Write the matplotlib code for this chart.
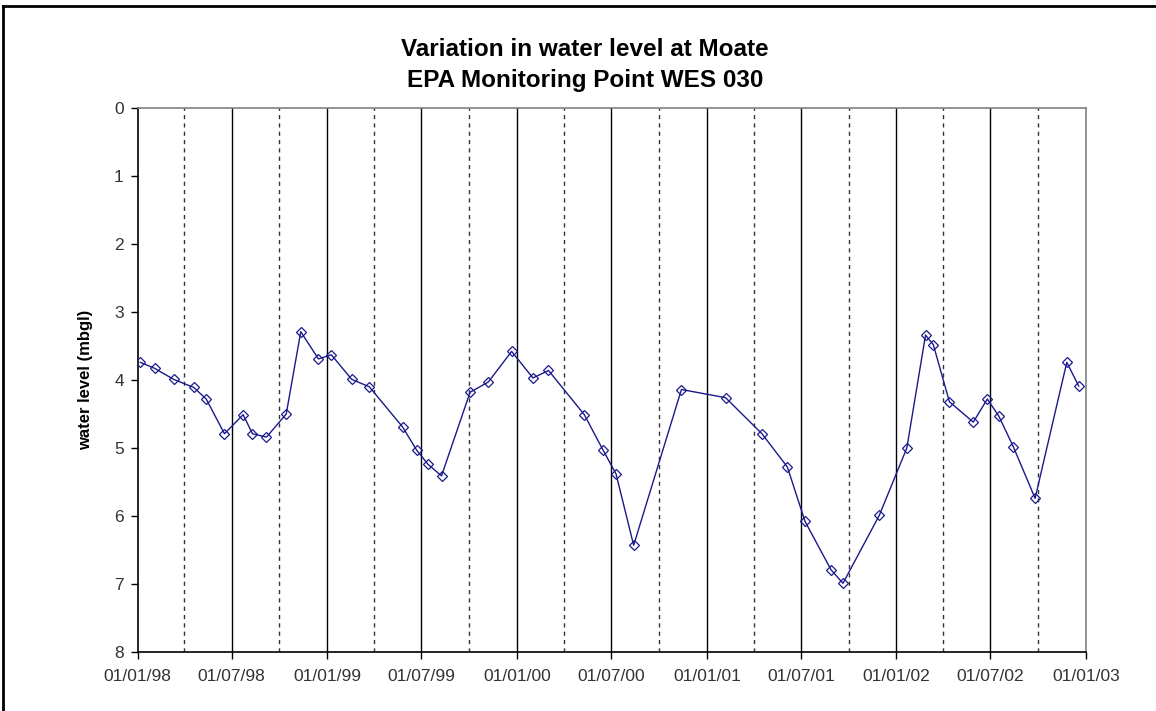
import datetime as dt
import matplotlib
matplotlib.use("Agg")
import matplotlib.pyplot as plt
from matplotlib.lines import Line2D

plt.rcParams['font.family'] = ['Liberation Sans', 'DejaVu Sans']

# sampling dates and water level (m below ground level)
dates = ["1998-01-06", "1998-02-03", "1998-03-11", "1998-04-19", "1998-05-13",
         "1998-06-17", "1998-07-23", "1998-08-10", "1998-09-06", "1998-10-14",
         "1998-11-11", "1998-12-15", "1999-01-09", "1999-02-17", "1999-03-23",
         "1999-05-26", "1999-06-22", "1999-07-14", "1999-08-09", "1999-10-03",
         "1999-11-07", "1999-12-22", "2000-02-01", "2000-03-02", "2000-05-10",
         "2000-06-15", "2000-07-10", "2000-08-13", "2000-11-13", "2001-02-06",
         "2001-04-17", "2001-06-05", "2001-07-09", "2001-08-28", "2001-09-20",
         "2001-11-29", "2002-01-21", "2002-02-26", "2002-03-13", "2002-04-13",
         "2002-05-29", "2002-06-25", "2002-07-17", "2002-08-14", "2002-09-25",
         "2002-11-25", "2002-12-18"]
level = [3.74, 3.83, 3.99, 4.11, 4.28, 4.79, 4.51, 4.79, 4.84, 4.50,
         3.29, 3.69, 3.63, 3.99, 4.10, 4.69, 5.03, 5.24, 5.41, 4.18,
         4.03, 3.58, 3.97, 3.86, 4.51, 5.03, 5.38, 6.43, 4.14, 4.26,
         4.79, 5.28, 6.08, 6.79, 6.99, 5.99, 5.00, 3.34, 3.48, 4.32,
         4.62, 4.28, 4.53, 4.98, 5.74, 3.74, 4.09]

x_labels = ["01/01/98", "01/07/98", "01/01/99", "01/07/99", "01/01/00", "01/07/00",
            "01/01/01", "01/07/01", "01/01/02", "01/07/02", "01/01/03"]

d = [dt.datetime.strptime(s, "%Y-%m-%d") for s in dates]

fig = plt.figure(figsize=(11.56, 7.11), dpi=100)
ax = fig.add_axes([137.7/1156, 1-652/711, (1086-137.7)/1156, (652-108)/711])

start = dt.datetime(1998, 1, 1)
end = dt.datetime(2003, 1, 1)

# half-year gridlines solid, quarter gridlines dashed
for yr in range(1998, 2003):
    for m in (1, 4, 7, 10):
        g = dt.datetime(yr, m, 1)
        if g == start:
            continue
        if m in (1, 7):
            ax.axvline(g, color='black', lw=1.0, zorder=1)
        else:
            ax.axvline(g, color='#333333', lw=1.0, ls=(0, (3, 3)), zorder=1)

ax.plot(d, level, color='#1a1a8c', lw=1.0, marker='D', markersize=5.5,
        markerfacecolor='none', markeredgecolor='#1a1a8c', markeredgewidth=0.9, zorder=3)

ax.set_xlim(start, end)
ax.set_ylim(8, 0)
ax.set_yticks(range(0, 9))
ax.set_xticks([dt.datetime.strptime(s, "%d/%m/%y") for s in x_labels])
ax.set_xticklabels(x_labels)
ax.tick_params(axis='both', direction='out', length=5, width=1, labelsize=12.5,
               colors='black', labelcolor='#333333')
ax.tick_params(axis='x', pad=7)
ax.tick_params(axis='y', pad=5)

for side in ('left', 'bottom'):
    ax.spines[side].set_color('black')
    ax.spines[side].set_linewidth(1.2)
for side in ('top', 'right'):
    ax.spines[side].set_color('#808080')
    ax.spines[side].set_linewidth(1.2)

ax.set_ylabel("water level (mbgl)", fontsize=12, fontweight='bold')
ax.yaxis.set_label_coords((93-137.7)/948.3, 0.5)

fig.text(585/1156, 1-50/711, "Variation in water level at Moate", ha='center', va='center',
         fontsize=17.5, fontweight='bold')
fig.text(585/1156, 1-80/711, "EPA Monitoring Point WES 030", ha='center', va='center',
         fontsize=17.5, fontweight='bold')

# outer chart border (left and top visible)
fig.add_artist(Line2D([3/1156, 3/1156], [0, 1-6/711], color='black', lw=2, transform=fig.transFigure))
fig.add_artist(Line2D([3/1156, 1], [1-6/711, 1-6/711], color='black', lw=2, transform=fig.transFigure))

fig.savefig("out.png", dpi=100)
